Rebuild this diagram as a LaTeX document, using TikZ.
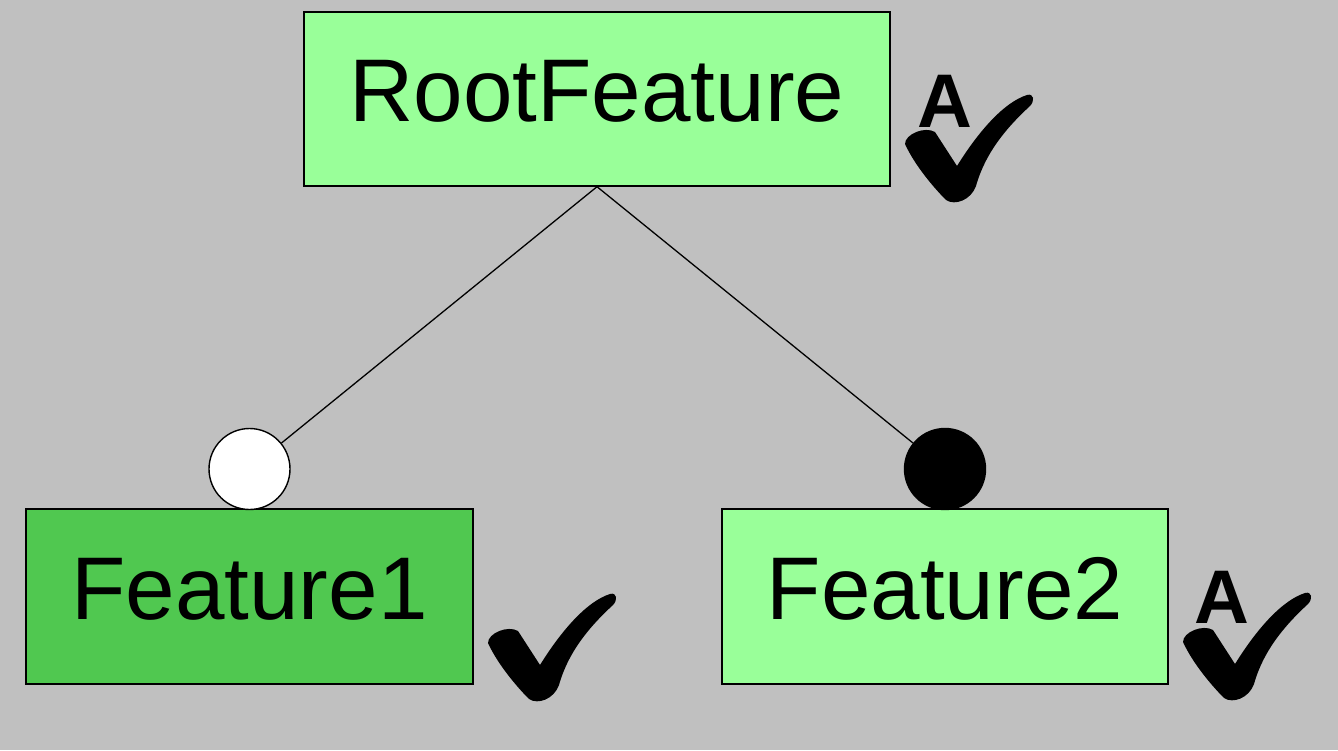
\documentclass[tikz,border=0pt]{standalone}
\usepackage{fontspec}
\setmainfont{Liberation Sans}
\begin{document}
\begin{tikzpicture}[x=1pt,y=-1pt,
  feat/.style={draw=black,line width=1.4pt,fill=#1,inner sep=0pt,
    font=\fontsize{89}{91}\selectfont,text depth=16pt},
  grp/.style={circle,draw=black,line width=1.4pt,fill=#1,minimum size=81pt,inner sep=0pt},
  conn/.style={draw=black,line width=1.3pt},
  abadge/.style={font=\fontsize{76}{78}\selectfont\bfseries,inner sep=0pt},
  tick/.pic={\fill[black] (0,50) .. controls (0,40) and (20,32) .. (30,38)
      -- (52,72) .. controls (75,35) and (100,8) .. (122,1)
      .. controls (129,-1) and (130,7) .. (125,12)
      .. controls (100,35) and (80,60) .. (71,92)
      .. controls (66,106) and (50,112) .. (41,106)
      .. controls (30,95) and (10,72) .. cycle;}
  ]
\fill[fill={rgb,255:red,192;green,192;blue,192}] (0,0) rectangle (1338,750);
\useasboundingbox (0,0) rectangle (1338,750);
\definecolor{lightgreen}{RGB}{153,255,153}
\definecolor{midgreen}{RGB}{80,200,80}
\node[feat=lightgreen,minimum width=586pt,minimum height=174pt] (root) at (597,99) {RootFeature};
\node[feat=midgreen,minimum width=447pt,minimum height=175pt] (f1) at (249.5,596.5) {Feature1};
\node[feat=lightgreen,minimum width=446pt,minimum height=175pt] (f2) at (945,596.5) {Feature2};
\node[grp=white] (c1) at (249.5,469) {};
\node[grp=black] (c2) at (945,469) {};
\draw[conn] (root.south) -- (c1);
\draw[conn] (root.south) -- (c2);
\pic at (905,94) {tick};
\pic at (488,593) {tick};
\pic at (1183,592) {tick};
\node[abadge] (a1) at (945,101) {A};
\node[abadge] (a2) at (1222,597) {A};
\end{tikzpicture}
\end{document}
